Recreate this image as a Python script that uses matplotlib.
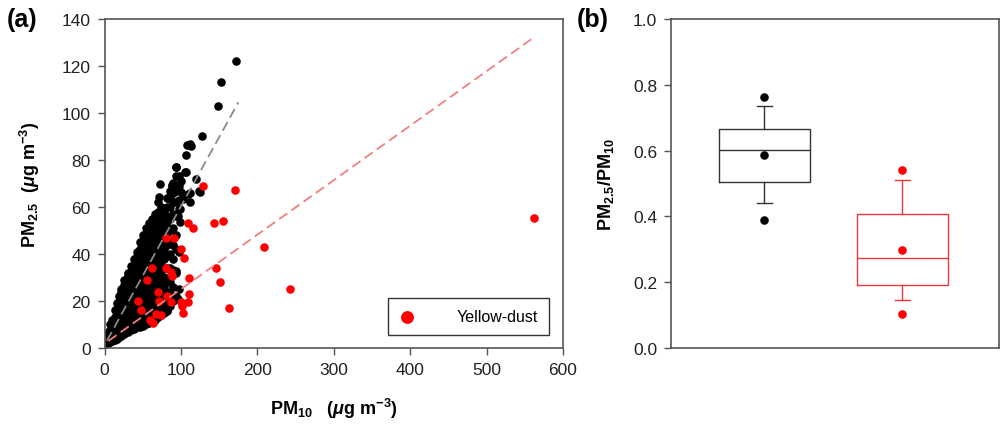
import matplotlib
matplotlib.use("Agg")
import matplotlib.pyplot as plt

# --- (a) scatter data: PM10 vs PM2.5 (ug m-3) ---
# normal days, grouped by PM10 column
black_pm10 = (
    [2] * 3 + [4] * 3 + [7] * 4 + [10] * 4 + [13] * 5 + [16] * 6 + [19] * 7
    + [22] * 8 + [26] * 9 + [30] * 10 + [34] * 10 + [38] * 11 + [42] * 12
    + [46] * 13 + [50] * 14 + [54] * 15 + [58] * 15 + [62] * 16 + [66] * 16
    + [70] * 17 + [74] * 13 + [78] * 12 + [82] * 12 + [86] * 11 + [90] * 10
    + [94] * 9 + [98] * 6
    + [71, 83, 88, 100.6, 105, 106.3, 108, 111.5, 113.7, 109.3, 111.5, 112.4,
       120.2, 124.5, 128, 148.5, 152.8, 172.4, 72.3, 87.6, 100.6, 94, 102,
       96.2, 98.4, 98.4, 94, 96.2, 82.3, 107, 123.6]
)
black_pm25 = [
    1.5, 3, 5,
    2, 4.5, 7,
    2.5, 5, 7.5, 10,
    3, 6, 9, 12,
    3.5, 7, 10, 13, 16,
    4, 7.5, 11, 14, 17, 19,
    4.5, 8, 11, 14, 17, 20, 22,
    5, 8.5, 12, 15, 18, 21, 24, 25,
    6, 9, 12, 15, 18, 21, 24, 27, 29,
    7, 10, 13, 16, 19, 22, 25, 28, 31, 32,
    7.5, 11, 14, 17, 20, 23, 26, 29, 32, 35,
    8, 11, 14, 17, 20, 23, 26, 29, 32, 35, 38,
    9, 12, 15, 18, 21, 24, 27, 30, 33, 36, 39, 41,
    9, 12, 15, 18, 21, 24, 27, 30, 33, 36, 39, 42, 45,
    9.5, 13, 16, 19, 22, 25, 28, 31, 34, 37, 40, 43, 46, 48,
    10, 13, 16, 19, 22, 25, 28, 31, 34, 37, 40, 43, 46, 49, 51,
    10.5, 14, 17, 20, 23, 26, 29, 32, 35, 38, 41, 44, 47, 50, 53,
    11, 14, 17, 20, 23, 26, 29, 32, 35, 38, 41, 44, 47, 50, 53, 55,
    12, 15, 18, 21, 24, 27, 30, 33, 36, 39, 42, 45, 48, 51, 54, 57,
    13, 16, 19, 22, 25, 28, 31, 34, 37, 40, 43, 46, 49, 52, 55, 58, 62,
    14, 17, 21, 25, 29, 33, 37, 41, 45, 49, 53, 57, 60,
    15, 18, 22, 26, 30, 34, 38, 42, 46, 50, 54, 58,
    16, 20, 24, 29, 34, 39, 44, 49, 52, 56, 60, 64,
    18, 23, 28, 34, 40, 45, 50, 55, 60, 64, 67,
    20, 26, 33, 38, 44, 51, 57, 62, 66, 70,
    22, 32, 42, 48, 56, 62, 67, 73, 77,
    25, 41, 59, 63, 69, 73,
    64.4, 64, 69.4, 66.5, 74.8, 82.1, 86.5, 86.8, 86.1, 65.5, 62, 66.1,
    71.9, 66.5, 90.2, 103.1, 113.1, 122.1, 69.8, 69.1, 71.2, 76.9, 63.4,
    56.3, 59.1, 53.5, 32.9, 20.9, 15.9, 74.8, 66.9,
]

# yellow-dust days
dust_pm10 = [128.9, 170.2, 108.5, 115.8, 142.8, 154.6, 208.1, 80.2, 90.6, 100.6,
             104.1, 61.9, 80.6, 88.0, 110.2, 145.4, 55.8, 151.1, 242.0, 69.7,
             81.1, 110.2, 44.0, 71.4, 87.1, 100.6, 108.5, 101.0, 47.1, 162.4,
             102.7, 67.1, 73.6, 58.9, 62.8, 86.7, 562.0]
dust_pm25 = [69.1, 67.1, 53.2, 51.1, 53.1, 54.0, 43.1, 46.8, 46.8, 42.0,
             38.2, 34.0, 34.0, 30.8, 29.9, 34.2, 28.9, 28.1, 25.0, 24.0,
             22.1, 22.9, 20.0, 19.9, 19.4, 19.4, 19.6, 18.0, 16.0, 17.2,
             15.0, 14.3, 14.0, 11.9, 10.5, 32.2, 55.2]

# regression lines (end points)
black_fit_x = [3, 175]
black_fit_y = [3.1, 104.5]
dust_fit_x = [5, 562]
dust_fit_y = [3.0, 132.2]

# --- (b) PM2.5/PM10 ratio box stats: normal, yellow-dust ---
box_q1 = [0.506, 0.190]
box_med = [0.601, 0.272]
box_q3 = [0.667, 0.406]
whisk_lo = [0.440, 0.146]
whisk_hi = [0.734, 0.512]
ratio_mean = [0.587, 0.299]
pct5 = [0.388, 0.102]
pct95 = [0.764, 0.541]

plt.rcParams["font.family"] = ["Liberation Sans", "DejaVu Sans"]
plt.rcParams["mathtext.fontset"] = "custom"
plt.rcParams["mathtext.rm"] = "Liberation Sans:bold"
plt.rcParams["mathtext.it"] = "Liberation Sans:bold:italic"
plt.rcParams["mathtext.bf"] = "Liberation Sans:bold"

spine_col = "#555555"
dot = 38

fig = plt.figure(figsize=(10.04, 4.27), dpi=100)
ax1 = fig.add_axes([0.1042, 0.1827, 0.4566, 0.7705])
ax2 = fig.add_axes([0.6683, 0.1827, 0.3267, 0.7705])

# (a)
ax1.scatter(black_pm10, black_pm25, s=dot, c="black", linewidths=0, zorder=2)
ax1.scatter(dust_pm10, dust_pm25, s=dot, c="#ff0000", linewidths=0, zorder=3,
            label="Yellow-dust")
ax1.plot(black_fit_x, black_fit_y, ls=(0, (5.5, 2.8)), color="#8a8a8a", lw=1.3, zorder=4)
ax1.plot(dust_fit_x, dust_fit_y, ls=(0, (5.5, 2.8)), color="#f08080", lw=1.3, zorder=4)

ax1.set_xlim(0, 600)
ax1.set_ylim(0, 140)
ax1.set_xticks(range(0, 601, 100))
ax1.set_yticks(range(0, 141, 20))
ax1.set_xlabel(r"PM$_{10}$   ($\mu$g m$^{-3}$)", fontsize=13, fontweight="bold", labelpad=14)
ax1.set_ylabel(r"PM$_{2.5}$  ($\mu$g m$^{-3}$)", fontsize=13, fontweight="bold", labelpad=14)

leg = ax1.legend(loc="lower right", bbox_to_anchor=(0.9695, 0.0395), borderaxespad=0,
                 fancybox=False, edgecolor="black", handlelength=1.0,
                 handletextpad=2.6, borderpad=0.7, markerscale=1.5, fontsize=11.5)
leg.get_frame().set_linewidth(1.0)

# (b)
colors = ["#333333", "#e8383d"]
dot_colors = ["black", "#ff0000"]
for i in range(2):
    st = [dict(med=box_med[i], q1=box_q1[i], q3=box_q3[i],
               whislo=whisk_lo[i], whishi=whisk_hi[i], fliers=[])]
    lp = dict(color=colors[i], lw=1.0)
    ax2.bxp(st, positions=[i + 1], widths=0.659, capwidths=0.109, showfliers=False,
            boxprops=lp, whiskerprops=lp, capprops=lp, medianprops=lp)
    ax2.scatter([i + 1] * 3, [pct95[i], ratio_mean[i], pct5[i]], s=dot,
                c=dot_colors[i], linewidths=0, zorder=3)

ax2.set_xlim(0.325, 2.70)
ax2.set_ylim(0, 1.0)
ax2.set_xticks([])
ax2.set_yticks([0, 0.2, 0.4, 0.6, 0.8, 1.0])
ax2.set_yticklabels(["0.0", "0.2", "0.4", "0.6", "0.8", "1.0"])
ax2.set_ylabel(r"PM$_{2.5}$/PM$_{10}$", fontsize=13, fontweight="bold", labelpad=12)

for ax in (ax1, ax2):
    for sp in ax.spines.values():
        sp.set_color(spine_col)
        sp.set_linewidth(1.2)
    ax.tick_params(direction="out", length=5, width=1, color=spine_col,
                   labelsize=12.5, labelcolor="#222222", pad=5)

fig.text(0.022, 0.953, "(a)", fontsize=18, fontweight="bold", ha="center", va="center")
fig.text(0.590, 0.953, "(b)", fontsize=18, fontweight="bold", ha="center", va="center")

fig.savefig("out.png", dpi=100)
